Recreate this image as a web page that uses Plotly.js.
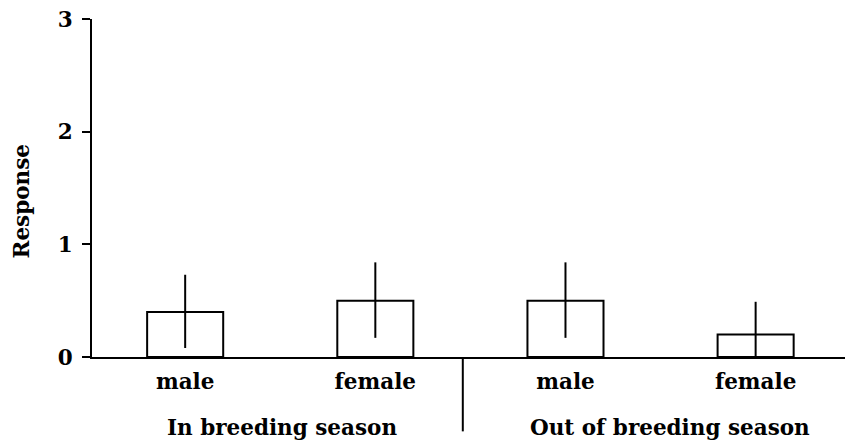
<!DOCTYPE html>
<html>
<head>
<meta charset="utf-8">
<script src="https://cdn.plot.ly/plotly-3.0.1.min.js"></script>
<style>
  body { margin: 0; background: #fff; }
  #chart { width: 845px; height: 444px; }
</style>
</head>
<body>
<div id="chart"></div>
<script>
// groups and sexes
var seasons = ['In breeding season', 'In breeding season', 'Out of breeding season', 'Out of breeding season'];
var sexes = ['male', 'female', 'male', 'female'];
var response = [0.4, 0.5, 0.5, 0.2];
var errPlus = [0.33, 0.34, 0.34, 0.29];
var errMinus = [0.32, 0.33, 0.33, 0.2];
var yTicks = [0, 1, 2, 3];

var font = {family: 'DejaVu Serif', size: 21.5, color: '#000', weight: 'bold'};

var pos = sexes.map(function(s, i) { return i; });

var trace = {
	type: 'bar',
	x: pos,
	y: response,
	width: 0.4,
	marker: {color: '#fff', line: {color: '#000', width: 2}},
	error_y: {
		type: 'data',
		symmetric: false,
		array: errPlus,
		arrayminus: errMinus,
		color: '#000',
		thickness: 2,
		width: 0
	},
	hoverinfo: 'none'
};

// group labels centred under their bars, plus the divider between groups
var groups = [];
seasons.forEach(function(s, i) {
	var g = groups.find(function(d) { return d.name == s; });
	if (!g) { g = {name: s, idx: []}; groups.push(g); }
	g.idx.push(i);
});

var annotations = [];
var shapes = [];
groups.forEach(function(g, k) {
	var mid = (g.idx[0] + g.idx[g.idx.length - 1]) / 2;
	annotations.push({
		text: g.name, x: mid, xref: 'x', y: -0.21, yref: 'paper',
		xanchor: 'center', yanchor: 'middle', showarrow: false,
		xshift: k == 0 ? 2 : 9, font: font
	});
	if (k > 0) {
		shapes.push({
			type: 'line', xref: 'x', yref: 'paper',
			x0: g.idx[0] - 0.54, x1: g.idx[0] - 0.54, y0: 0, y1: -0.22,
			line: {color: '#000', width: 2}
		});
	}
});

annotations.push({
	text: 'Response', textangle: -90, xref: 'paper', yref: 'paper',
	x: -0.093, y: 0.46, xanchor: 'center', yanchor: 'middle', showarrow: false,
	font: {family: 'DejaVu Serif', size: 21.5, color: '#000', weight: 'bold'}
});

var layout = {
	width: 845,
	height: 444,
	margin: {l: 92, r: 0, t: 19, b: 87},
	paper_bgcolor: '#fff',
	plot_bgcolor: '#fff',
	showlegend: false,
	font: font,
	xaxis: {
		range: [-0.49, 3.47],
		tickvals: pos,
		ticktext: sexes,
		ticks: '',
		ticklabelstandoff: 4,
		showline: true,
		linecolor: '#000',
		linewidth: 2,
		showgrid: false,
		zeroline: false,
		tickfont: font
	},
	xaxis2: {
		overlaying: 'x',
		anchor: 'y',
		side: 'bottom',
		range: [-0.49, 3.47],
		tickvals: [-0.488, 0.5, 2.5],
		ticktext: ['', '', ''],
		ticks: 'outside',
		ticklen: 6,
		tickwidth: 2,
		tickcolor: '#000',
		showline: false,
		showgrid: false,
		zeroline: false
	},
	yaxis: {
		range: [0, 3],
		tickvals: yTicks,
		showline: true,
		linecolor: '#000',
		linewidth: 2,
		ticks: 'outside',
		ticklen: 8,
		tickwidth: 2,
		tickcolor: '#000',
		ticklabelstandoff: 5,
		showgrid: false,
		zeroline: false,
		tickfont: font
	},
	annotations: annotations,
	shapes: shapes
};

Plotly.newPlot('chart', [trace], layout, {staticPlot: true});
</script>
</body>
</html>
